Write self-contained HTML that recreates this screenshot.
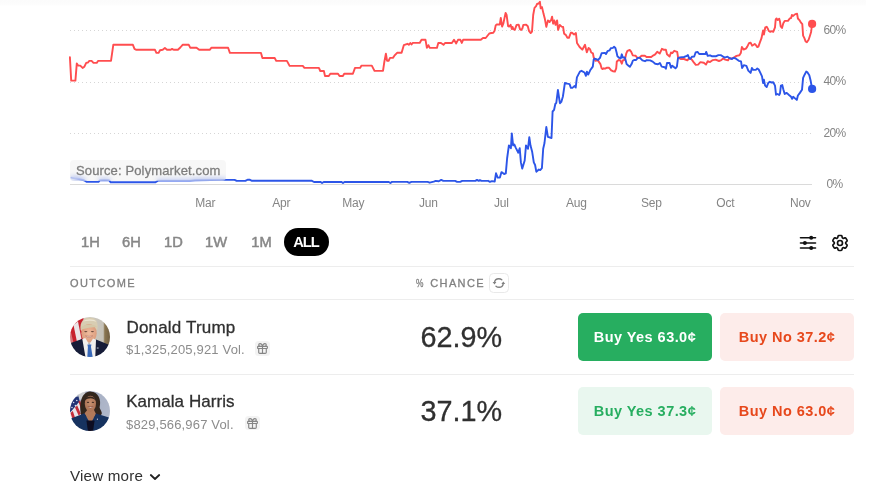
<!DOCTYPE html>
<html><head><meta charset="utf-8">
<style>
html,body{margin:0;padding:0;background:#fff;}
body{width:885px;height:481px;overflow:hidden;position:relative;font-family:"Liberation Sans",sans-serif;}
.abs{position:absolute;}
svg text{font-family:"Liberation Sans",sans-serif;}
.tr{position:absolute;top:228.9px;height:27px;line-height:27px;font-size:14.7px;color:#878787;-webkit-text-stroke:0.5px #878787;}
.hl{position:absolute;left:70px;width:784px;height:1px;background:#ededed;}
.hd{position:absolute;top:277px;font-size:11px;letter-spacing:1.4px;color:#808080;line-height:12px;-webkit-text-stroke:0.3px #808080;}
.name{position:absolute;left:126.5px;font-size:17px;letter-spacing:0.05px;color:#303030;line-height:20px;-webkit-text-stroke:0.3px #303030;white-space:nowrap;}
.vol{position:absolute;left:126px;font-size:13px;letter-spacing:0.17px;color:#8c8c8c;line-height:15px;white-space:nowrap;}
.pct{position:absolute;left:420.5px;font-size:28.8px;color:#303030;-webkit-text-stroke:0.3px #303030;line-height:32px;white-space:nowrap;}
.btn{position:absolute;width:134px;height:48px;border-radius:5px;text-align:center;line-height:48.6px;font-size:14.5px;letter-spacing:0.45px;font-weight:bold;white-space:nowrap;}
.gift{position:absolute;width:15px;height:14.5px;border-radius:3.5px;background:#f3f3f3;}
.gift svg{position:absolute;left:1.1px;top:0.85px;}
</style></head><body><div id="w" style="position:absolute;left:0;top:0;width:885px;height:481px;will-change:transform;">
<div class="abs" style="left:0;top:0;width:866px;height:6px;background:linear-gradient(#fbfbfb,#fcfcfc 70%,#fff);"></div>
<svg class="abs" style="left:0;top:0" width="885" height="220" viewBox="0 0 885 220">
 <g stroke="#d6d6d6" stroke-width="1" stroke-dasharray="1 3">
  <line x1="70" y1="30.5" x2="811" y2="30.5"/>
  <line x1="70" y1="82.5" x2="811" y2="82.5"/>
  <line x1="70" y1="133.5" x2="811" y2="133.5"/>
 </g>
 <line x1="70" y1="184.5" x2="812" y2="184.5" stroke="#dadada" stroke-width="1"/>
 <polyline fill="none" stroke="#ff4d4f" stroke-width="1.9" stroke-linejoin="round" stroke-linecap="round" points="69.9,57.1 71.2,80.6 75.4,80.6 76.8,63.4 78.1,65.6 80.3,65.6 82.6,67.9 84.4,66.7 86.2,62.9 88.0,62.5 89.3,60.9 91.6,60.9 93.5,62.9 96.7,62.9 98.0,60.9 111.0,60.9 113.3,44.8 132.9,44.8 134.5,48.9 136.0,49.8 155.0,49.8 156.4,52.9 158.6,52.9 160.0,50.2 162.7,49.8 164.9,48.0 167.0,49.8 170.7,49.8 172.1,48.9 173.6,49.8 177.9,49.8 180.3,47.5 182.6,44.8 188.8,44.8 190.2,47.7 196.5,47.7 199.2,49.8 209.7,49.8 211.5,47.7 228.1,47.7 229.9,52.9 261.0,52.9 262.4,58.0 274.7,58.0 276.2,60.9 286.9,60.9 289.6,65.9 302.8,65.9 304.4,67.9 318.9,67.9 320.3,71.0 323.9,71.0 325.0,76.0 328.8,76.0 330.3,73.7 338.0,73.7 339.5,76.0 342.9,76.0 344.2,73.7 352.9,73.7 355.0,67.9 360.1,67.9 361.5,65.6 371.8,65.6 374.5,70.9 383.0,70.9 384.4,61.5 385.9,53.7 387.1,60.9 388.6,60.9 390.0,57.9 392.9,57.9 394.4,55.7 397.1,52.8 401.6,52.8 403.8,45.2 407.4,43.8 408.8,44.8 410.3,43.0 411.5,44.5 412.8,42.9 419.7,42.9 421.5,39.8 425.5,39.8 426.9,47.9 428.4,45.2 429.8,47.9 436.9,47.9 438.3,43.0 441.0,43.0 443.5,44.8 445.0,43.0 451.9,43.0 454.0,39.8 456.2,43.4 458.0,39.8 460.4,39.8 461.8,42.9 463.1,39.8 480.8,39.8 483.0,38.0 485.7,38.0 489.3,33.5 490.0,33.3 493.3,32.8 494.6,30.8 495.7,25.4 496.7,24.5 499.8,24.5 500.8,17.9 502.1,26.6 503.3,23.7 505.6,12.9 506.6,15.0 508.1,26.2 509.1,26.6 510.6,24.8 511.8,29.1 512.6,27.0 513.4,29.1 514.8,29.8 516.6,24.9 518.7,24.8 519.9,29.1 521.2,29.9 522.3,28.7 523.3,24.9 526.2,24.8 527.8,26.2 529.1,31.2 530.7,33.1 532.0,31.6 533.2,15.0 534.5,7.9 536.1,6.2 537.0,4.0 538.6,3.5 539.9,1.8 540.7,8.3 542.0,7.1 543.6,14.1 544.9,19.1 546.3,26.9 547.9,20.4 549.6,22.0 550.3,20.8 551.0,20.4 552.1,16.6 553.1,23.7 554.3,20.4 555.6,24.9 557.1,20.4 558.1,29.9 559.8,24.9 561.6,26.6 563.1,27.0 564.1,33.7 565.8,34.9 567.4,37.8 568.9,37.8 570.8,32.8 572.0,32.7 574.1,34.5 575.9,33.1 577.0,43.0 579.6,47.0 582.3,49.7 585.0,44.8 586.8,52.4 588.6,47.9 590.0,49.1 591.2,52.5 592.9,53.3 593.7,57.5 595.4,60.8 597.9,60.4 600.4,64.1 601.6,68.3 602.5,69.1 603.7,68.3 605.0,68.7 606.6,67.8 609.1,67.8 611.2,70.3 612.9,71.2 614.9,71.6 616.2,68.3 616.8,61.6 618.7,60.0 620.3,60.4 621.8,63.7 622.8,60.4 624.1,60.0 625.3,57.9 626.2,53.7 627.4,50.8 629.7,50.0 631.1,51.6 632.8,55.4 635.7,55.8 637.0,57.5 639.0,57.9 641.5,55.8 644.9,55.8 646.5,57.0 647.8,57.0 651.2,57.0 653.5,55.3 655.2,54.4 657.2,51.7 659.7,53.6 661.9,48.8 663.6,49.7 665.9,49.7 667.0,54.2 669.6,56.5 671.0,52.5 672.3,53.1 674.2,50.8 677.2,51.9 678.1,57.6 680.6,59.0 684.0,59.0 687.4,60.4 689.1,58.2 691.3,59.0 693.6,62.1 695.8,64.9 698.1,64.6 700.4,62.1 703.8,62.7 706.0,64.6 707.7,61.2 710.0,62.1 712.8,60.1 715.6,59.6 719.0,61.0 721.3,60.1 723.0,58.5 725.2,59.6 728.1,60.4 729.2,58.2 731.4,58.7 734.3,57.4 736.5,55.9 739.4,55.3 740.8,53.1 741.9,46.9 743.6,49.5 745.9,48.6 747.3,46.6 749.0,43.2 750.6,42.6 752.1,45.7 754.7,44.0 755.8,45.0 757.3,47.1 758.4,46.6 759.9,42.4 761.5,38.2 762.5,33.1 763.1,30.5 763.9,34.6 764.6,31.0 765.3,27.3 766.7,26.8 767.7,28.4 768.8,31.0 770.3,31.8 771.9,31.2 773.2,31.8 775.0,27.3 775.7,19.5 776.6,18.5 777.6,20.1 779.2,18.7 780.0,21.6 780.7,26.3 782.0,27.9 783.3,23.2 784.7,20.9 788.0,20.9 789.9,18.3 791.1,18.0 791.9,14.9 793.2,15.9 795.3,14.1 797.1,13.8 797.9,18.5 799.4,20.1 801.0,22.7 802.3,24.2 803.1,35.6 804.4,38.2 805.6,41.4 806.9,42.2 808.6,39.8 809.8,36.2 811.1,32.0 812.1,24.0"/>
 <polyline fill="none" stroke="#2c55e8" stroke-width="1.9" stroke-linejoin="round" stroke-linecap="round" points="71.6,177.6 78.0,178.8 84.0,180.2 86.8,181.9 98.5,181.9 100.0,180.2 109.0,180.2 110.7,182.3 155.5,182.3 158.0,180.6 190.0,180.6 195.0,180.2 225.7,179.9 234.6,179.9 236.7,180.9 245.4,180.9 247.5,179.7 249.5,179.7 251.5,180.7 311.5,180.7 314.0,182.0 320.7,182.0 322.1,183.0 323.7,182.0 341.6,182.0 343.0,183.0 344.5,182.0 388.8,182.0 390.4,183.0 392.0,181.9 407.3,181.9 409.3,182.9 411.4,181.9 427.6,181.9 429.7,182.7 433.7,181.7 435.8,180.9 438.8,181.3 441.2,179.9 443.3,180.9 455.1,180.9 457.1,181.9 460.2,181.9 462.2,180.9 475.4,180.9 477.0,179.9 478.7,180.9 479.9,180.1 481.5,180.9 487.6,180.9 488.0,180.8 489.9,181.9 491.9,181.1 494.7,181.5 496.0,173.3 497.7,177.6 499.9,177.6 501.5,172.1 504.1,174.0 505.8,173.3 507.1,158.5 508.9,145.4 510.9,148.2 511.8,133.4 513.1,145.4 514.4,144.6 515.7,147.6 518.3,152.7 519.7,148.2 520.9,162.4 522.2,168.6 524.7,160.5 526.0,145.4 528.0,148.8 529.3,137.2 530.5,145.6 532.1,151.4 533.8,162.4 535.1,165.0 536.3,171.7 538.9,169.5 540.2,170.1 541.9,168.2 543.2,148.8 544.5,143.0 546.3,127.0 547.9,136.9 551.5,138.0 552.6,111.5 554.1,109.8 555.3,104.0 556.3,102.9 557.9,90.0 559.9,103.2 561.3,101.9 562.9,96.5 564.9,82.9 567.4,83.6 569.6,84.1 570.9,87.9 572.4,87.9 574.6,85.9 575.7,87.6 576.9,77.4 579.9,71.6 581.5,70.8 584.5,72.5 585.9,75.8 586.9,71.6 588.2,74.6 590.2,70.3 592.8,66.6 593.7,59.5 594.6,58.7 596.2,59.1 597.9,60.0 600.0,57.9 601.6,53.3 605.0,52.9 606.0,54.0 607.5,51.2 609.5,50.4 610.8,48.3 612.9,47.9 614.1,46.8 615.4,47.9 616.6,52.5 617.4,56.2 618.7,57.5 620.8,58.3 621.8,54.3 622.8,57.5 624.9,57.5 625.9,61.2 626.6,64.1 628.2,65.4 629.9,66.8 631.6,64.1 632.8,60.8 634.1,60.0 636.1,60.0 637.8,57.9 639.9,57.9 642.4,60.4 645.0,61.2 646.7,60.1 650.1,60.4 652.7,61.6 655.2,63.8 658.0,64.2 659.9,63.0 661.7,66.6 664.8,67.2 665.9,68.7 667.0,63.0 669.6,63.0 671.0,67.8 672.1,65.7 673.8,66.9 675.5,68.3 676.9,66.6 678.0,58.2 680.0,57.4 684.0,57.0 686.2,56.2 687.9,55.1 689.1,58.2 690.2,59.0 691.9,56.7 694.2,56.5 695.6,52.5 697.5,51.9 699.2,54.0 705.5,54.0 706.2,51.9 707.7,55.9 710.0,55.3 711.7,56.2 716.2,56.2 718.4,55.1 720.7,55.1 723.0,56.5 724.7,57.6 727.5,56.7 729.7,58.2 732.0,59.0 733.7,57.8 736.0,58.7 738.8,60.8 741.0,61.4 742.1,68.0 743.8,65.2 746.4,65.9 748.3,70.6 750.6,72.9 751.9,68.0 753.2,69.9 755.8,69.9 757.3,68.5 758.7,69.5 760.5,73.2 762.0,76.3 763.1,83.1 763.9,79.7 765.1,85.6 766.7,87.0 768.2,83.1 769.8,81.8 771.6,82.5 773.2,82.2 775.0,85.6 776.0,94.7 777.6,94.0 779.2,95.0 780.0,93.4 780.9,85.6 782.3,85.1 783.3,89.3 784.7,94.0 786.7,92.9 789.0,95.0 791.1,96.8 792.1,98.8 793.2,96.8 795.3,98.6 796.8,99.9 797.9,95.5 799.9,92.9 802.0,89.8 803.1,77.9 804.6,74.7 806.2,71.6 807.2,72.1 809.3,75.3 810.6,80.5 812.1,88.9"/>
 <circle cx="812.1" cy="23.9" r="4.1" fill="#ff4d4f"/>
 <circle cx="812.1" cy="88.9" r="4.1" fill="#2c55e8"/>
 <g font-size="12" fill="#858585"><text x="205.3" y="207.3" text-anchor="middle" letter-spacing="-0.2">Mar</text><text x="281.3" y="207.3" text-anchor="middle" letter-spacing="-0.2">Apr</text><text x="353.3" y="207.3" text-anchor="middle" letter-spacing="-0.2">May</text><text x="428.3" y="207.3" text-anchor="middle" letter-spacing="-0.2">Jun</text><text x="501.3" y="207.3" text-anchor="middle" letter-spacing="-0.2">Jul</text><text x="576.3" y="207.3" text-anchor="middle" letter-spacing="-0.2">Aug</text><text x="651.3" y="207.3" text-anchor="middle" letter-spacing="-0.2">Sep</text><text x="725.3" y="207.3" text-anchor="middle" letter-spacing="-0.2">Oct</text><text x="800.3" y="207.3" text-anchor="middle" letter-spacing="-0.2">Nov</text><text x="834.5" y="33.7" text-anchor="middle" letter-spacing="-0.7">60%</text><text x="834.5" y="85.4" text-anchor="middle" letter-spacing="-0.7">40%</text><text x="834.5" y="137" text-anchor="middle" letter-spacing="-0.7">20%</text><text x="834.5" y="188" text-anchor="middle" letter-spacing="-0.7">0%</text></g>
</svg>
<div class="abs" style="left:70px;top:160px;width:156px;height:21.4px;border-radius:4px;background:rgba(232,232,232,0.33);backdrop-filter:blur(2.5px);"></div>
<div class="abs" style="left:76px;top:160px;height:21px;line-height:21px;font-size:13px;color:#7d7d7d;-webkit-text-stroke:0.3px #7d7d7d;letter-spacing:0.13px;white-space:nowrap;">Source: Polymarket.com</div>

<div class="tr" style="left:81px">1H</div>
<div class="tr" style="left:122px">6H</div>
<div class="tr" style="left:164px">1D</div>
<div class="tr" style="left:205px">1W</div>
<div class="tr" style="left:251.3px">1M</div>
<div class="abs" style="left:284px;top:228px;width:45px;height:28px;border-radius:14px;background:#000;color:#fff;font-size:14.7px;font-weight:bold;text-align:center;line-height:28px;letter-spacing:-1px;text-indent:-1px;">ALL</div>

<svg class="abs" style="left:798px;top:233px" width="20" height="20" viewBox="0 0 20 20">
 <g stroke="#111" stroke-width="1.6" stroke-linecap="round"><line x1="2.5" y1="4.7" x2="17.5" y2="4.7"/><line x1="2.5" y1="10" x2="17.5" y2="10"/><line x1="2.5" y1="15" x2="17.5" y2="15"/></g>
 <circle cx="13.2" cy="4.7" r="2" fill="#111"/><circle cx="6.9" cy="10" r="2" fill="#111"/><circle cx="13.2" cy="15" r="2" fill="#111"/>
</svg>
<svg class="abs" style="left:830px;top:233px" width="20" height="20" viewBox="0 0 24 24" fill="none" stroke="#111" stroke-width="2" stroke-linecap="round" stroke-linejoin="round">
<path d="M9.594 3.94c.09-.542.56-.94 1.11-.94h2.593c.55 0 1.02.398 1.11.94l.213 1.281c.063.374.313.686.645.87.074.04.147.083.22.127.325.196.72.257 1.075.124l1.217-.456a1.125 1.125 0 0 1 1.37.49l1.296 2.247a1.125 1.125 0 0 1-.26 1.431l-1.003.827c-.293.241-.438.613-.43.992a7.723 7.723 0 0 1 0 .255c-.008.378.137.75.43.991l1.004.827c.424.35.534.955.26 1.43l-1.298 2.247a1.125 1.125 0 0 1-1.369.491l-1.217-.456c-.355-.133-.75-.072-1.076.124a6.47 6.47 0 0 1-.22.128c-.331.183-.581.495-.644.869l-.213 1.281c-.09.543-.56.94-1.11.94h-2.594c-.55 0-1.019-.398-1.11-.94l-.213-1.281c-.062-.374-.312-.686-.644-.87a6.52 6.52 0 0 1-.22-.127c-.325-.196-.72-.257-1.076-.124l-1.217.456a1.125 1.125 0 0 1-1.369-.49l-1.297-2.247a1.125 1.125 0 0 1 .26-1.431l1.004-.827c.292-.24.437-.613.43-.991a6.932 6.932 0 0 1 0-.255c.007-.38-.138-.751-.43-.992l-1.004-.827a1.125 1.125 0 0 1-.26-1.43l1.297-2.247a1.125 1.125 0 0 1 1.37-.491l1.216.456c.356.133.751.072 1.076-.124.072-.044.146-.086.22-.128.332-.183.582-.495.644-.869l.214-1.28Z"/>
<path d="M15 12a3 3 0 1 1-6 0 3 3 0 0 1 6 0Z"/>
</svg>

<div class="hl" style="top:266px"></div>
<div class="hd" style="left:70px">OUTCOME</div>
<div class="hd" style="left:416px"><span style="display:inline-block;width:14.2px;"><span style="display:inline-block;transform:scaleX(0.76);transform-origin:0 50%;">%</span></span>CHANCE</div>
<div class="abs" style="left:489.2px;top:272.8px;width:17.6px;height:17.8px;border:1px solid #e9e9e9;border-radius:4.5px;"></div>
<svg class="abs" style="left:492px;top:275.8px" width="14" height="14" viewBox="0 0 14 14" fill="none" stroke="#7f7f7f" stroke-width="1.35" stroke-linecap="round">
 <path d="M2.6 6.2 C2.9 4 4.6 2.75 6.7 2.75 C8 2.75 9 3.1 9.8 3.8"/><path d="M11.2 7.8 C10.9 10 9.2 11.25 7.1 11.25 C5.8 11.25 4.8 10.9 4 10.2"/>
 <path d="M0.6 5.9 L4.4 5.9 L2.5 8.5 Z" fill="#7f7f7f" stroke="none"/><path d="M9.4 8.1 L13.2 8.1 L11.3 5.5 Z" fill="#7f7f7f" stroke="none"/>
</svg>
<div class="hl" style="top:299px"></div>

<!-- row 1 -->
<svg class="abs" style="left:70px;top:317px" width="40" height="40" viewBox="0 0 40 40">
 <defs><clipPath id="c1"><circle cx="20" cy="20" r="20"/></clipPath>
 <filter id="b1" x="-10%" y="-10%" width="120%" height="120%"><feGaussianBlur stdDeviation="0.6"/></filter>
 <linearGradient id="bg1" x1="0" x2="1" y1="0" y2="0"><stop offset="0" stop-color="#d8d5ce"/><stop offset="0.8" stop-color="#c6c2b8"/><stop offset="0.835" stop-color="#8a7652"/><stop offset="1" stop-color="#66553a"/></linearGradient>
 <radialGradient id="f1" cx="0.5" cy="0.5" r="0.6"><stop offset="0" stop-color="#eebb9d"/><stop offset="1" stop-color="#d89878"/></radialGradient>
 </defs>
 <g clip-path="url(#c1)"><g filter="url(#b1)">
  <rect x="-2" y="-2" width="44" height="44" fill="url(#bg1)"/>
  <polygon points="-2,-2 13.5,-2 13.5,26 -2,31" fill="#c8232e"/>
  <polygon points="3.5,8 8,4.5 11.5,22 7,25" fill="#ebe5e7"/>
  <polygon points="-2,17 1,15.5 3.5,26 -2,29" fill="#e3cfd2" opacity="0.5"/>
  <path d="M10.6 13 C9.6 4 14.5 0.4 19.5 0.5 C25.5 0.6 28.6 4.5 27.4 12.5 L26 13.5 L12 14.5Z" fill="#d8cdb2"/>
  <path d="M13 4.6 C16 1.6 23.5 1.6 26.5 4.8 C22.5 3.4 17 3.4 13 4.6Z" fill="#ebe4d2"/>
  <ellipse cx="19" cy="16.2" rx="7.7" ry="9.3" fill="url(#f1)"/>
  <path d="M10.9 10.5 C14.5 6.8 23 6.6 27.2 10 C23.5 10.4 14.5 10.8 11.2 13Z" fill="#d5c8a8"/>
  <ellipse cx="15.8" cy="14.6" rx="1.6" ry="0.55" fill="#6a4a3c"/>
  <ellipse cx="22.4" cy="14.6" rx="1.6" ry="0.55" fill="#6a4a3c"/>
  <path d="M15.4 18.8 Q19 20 22.8 18.8 Q19 22.2 15.4 18.8Z" fill="#f7efe9" stroke="#b56c5c" stroke-width="0.5"/>
  <path d="M-2 27 L12 22 L19.5 27 L26 22.6 L42 29 L42 42 L-2 42Z" fill="#151b37"/>
  <path d="M12.3 22 L15.8 42 L25.2 42 L26 22.8 L23 21.6 L19.3 27.4 L15.3 21Z" fill="#f1efed"/>
  <path d="M17.4 27.6 L21.4 27.6 L21 30 L23 42 L17.2 42 L17.9 30Z" fill="#3767b8"/>
  <rect x="26.8" y="30.4" width="1.8" height="1.3" fill="#9aa0b0"/>
 </g></g>
</svg>
<div class="name" style="top:317.7px;letter-spacing:0.18px">Donald Trump</div>
<div class="vol" style="top:341.5px">$1,325,205,921 Vol.</div>
<div class="gift" style="left:255px;top:341px"><svg width="13" height="13" viewBox="0 0 24 24" fill="none" stroke="#858585" stroke-width="2.1" stroke-linecap="round" stroke-linejoin="round"><rect x="3" y="8" width="18" height="4" rx="1"/><path d="M12 8v13"/><path d="M19 12v7a2 2 0 0 1-2 2H7a2 2 0 0 1-2-2v-7"/><path d="M7.5 8a2.5 2.5 0 0 1 0-5A4.8 8 0 0 1 12 8a4.8 8 0 0 1 4.5-5 2.5 2.5 0 0 1 0 5"/></svg></div>
<div class="pct" style="top:321px">62.9%</div>
<div class="btn" style="left:578px;top:313px;background:#27ae60;color:#fff;">Buy Yes 63.0¢</div>
<div class="btn" style="left:720px;top:313px;background:#fdecea;color:#e7481c;">Buy No 37.2¢</div>
<div class="hl" style="top:374px"></div>

<!-- row 2 -->
<svg class="abs" style="left:70px;top:391px" width="40" height="40" viewBox="0 0 40 40">
 <defs><clipPath id="c2"><circle cx="20" cy="20" r="20"/></clipPath>
 <filter id="b2" x="-10%" y="-10%" width="120%" height="120%"><feGaussianBlur stdDeviation="0.6"/></filter>
 <linearGradient id="bg2" x1="0" x2="1" y1="0" y2="0.3"><stop offset="0" stop-color="#98a3bb"/><stop offset="1" stop-color="#b0b8ca"/></linearGradient>
 <radialGradient id="f2" cx="0.5" cy="0.45" r="0.6"><stop offset="0" stop-color="#c68f6e"/><stop offset="1" stop-color="#a87052"/></radialGradient>
 </defs>
 <g clip-path="url(#c2)"><g filter="url(#b2)">
  <rect x="-2" y="-2" width="44" height="44" fill="url(#bg2)"/>
  <polygon points="8,2.5 15,0.5 15.5,7 9.5,9" fill="#cdcfd2"/>
  <polygon points="-2,8 8.5,5.5 11,17 -2,25" fill="#223374"/>
  <g fill="#d5daea"><circle cx="3.6" cy="11.5" r="0.8"/><circle cx="6.8" cy="9.5" r="0.8"/><circle cx="5.4" cy="14.6" r="0.8"/><circle cx="8.6" cy="12.8" r="0.8"/><circle cx="2" cy="16.5" r="0.8"/></g>
  <polygon points="-2,24 10,10 12.5,24 3,32" fill="#e9e6ea"/>
  <polygon points="8.4,10.5 10.2,9.8 12.6,16.5 11.2,18.2" fill="#c22d3a"/>
  <polygon points="5,16.5 7.2,14.5 10.8,22.8 8.6,24.4" fill="#c22d3a"/>
  <polygon points="0.5,22 2.8,20 5.5,28 3.2,30" fill="#c22d3a"/>
  <path d="M11 24 C8.5 10 13 0.4 20.5 0.6 C28.5 0.8 31.5 9 29.6 16.5 C31 20.5 33 22 31 24 L20 27 Z" fill="#33251f"/>
  <path d="M24 19 L17.2 19 L14.5 22.5 L20.5 33.5 L26 23Z" fill="#b27a5a"/>
  <ellipse cx="20.4" cy="12.7" rx="5.6" ry="8" fill="url(#f2)"/>
  <path d="M14.8 9.5 C15.5 4.3 24.5 3.8 26.2 10 C23.5 6.4 18 6.6 14.8 9.5Z" fill="#33251f"/>
  <ellipse cx="18" cy="11.2" rx="1.2" ry="0.5" fill="#2a1a16"/>
  <ellipse cx="22.9" cy="11.2" rx="1.2" ry="0.5" fill="#2a1a16"/>
  <path d="M18 15.4 Q20.5 16.4 23 15.4 Q20.5 18.8 18 15.4Z" fill="#f6efec" stroke="#7c3d34" stroke-width="0.45"/>
  <path d="M1 27.5 L14.5 22.2 L20.5 33 L26 22.6 L39 26.5 L42 42 L-2 42Z" fill="#16315f"/>
  <path d="M16.4 29.4 L24.6 29.4 L22.8 42 L18.2 42Z" fill="#0b0f20"/>
  <circle cx="27.4" cy="28.2" r="0.6" fill="#d8dbe6"/>
 </g></g>
</svg>
<div class="name" style="top:391.7px;left:126.2px">Kamala Harris</div>
<div class="vol" style="top:416.8px">$829,566,967 Vol.</div>
<div class="gift" style="left:244.6px;top:415.85px"><svg width="13" height="13" viewBox="0 0 24 24" fill="none" stroke="#858585" stroke-width="2.1" stroke-linecap="round" stroke-linejoin="round"><rect x="3" y="8" width="18" height="4" rx="1"/><path d="M12 8v13"/><path d="M19 12v7a2 2 0 0 1-2 2H7a2 2 0 0 1-2-2v-7"/><path d="M7.5 8a2.5 2.5 0 0 1 0-5A4.8 8 0 0 1 12 8a4.8 8 0 0 1 4.5-5 2.5 2.5 0 0 1 0 5"/></svg></div>
<div class="pct" style="top:395px">37.1%</div>
<div class="btn" style="left:578px;top:387px;background:#e9f7ef;color:#27ae60;">Buy Yes 37.3¢</div>
<div class="btn" style="left:720px;top:387px;background:#fdecea;color:#e7481c;">Buy No 63.0¢</div>

<div class="abs" style="left:70px;top:467px;font-size:15.2px;letter-spacing:0.17px;color:#303030;line-height:18px;white-space:nowrap;">View more</div>
<svg class="abs" style="left:148px;top:471px" width="14" height="12" viewBox="0 0 14 12" fill="none" stroke="#222" stroke-width="1.8" stroke-linecap="round" stroke-linejoin="round"><path d="M2.8 4 L7 8 L11.2 4"/></svg>
</div></body></html>
